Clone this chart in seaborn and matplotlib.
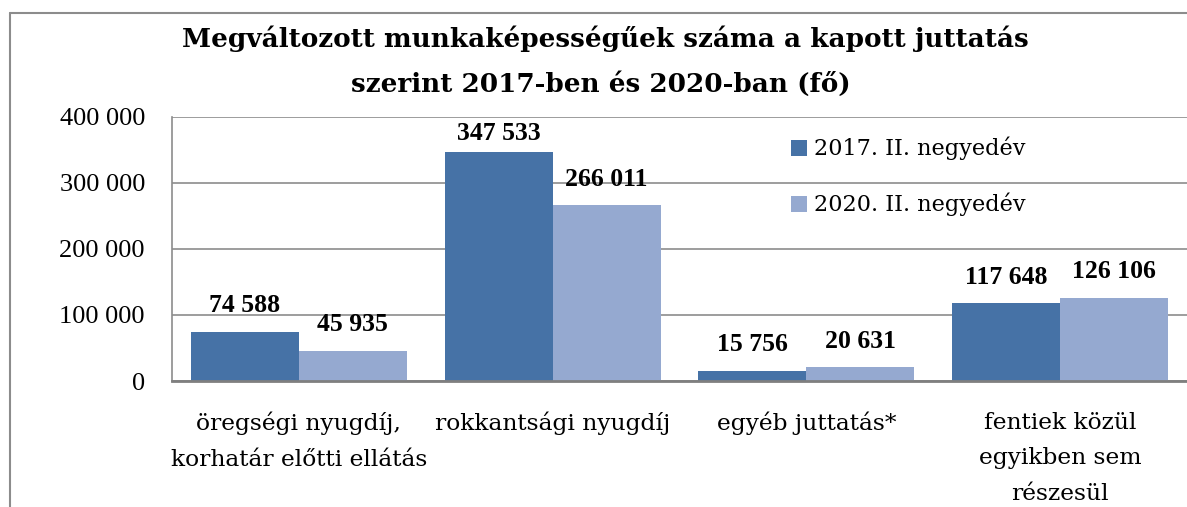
import matplotlib
matplotlib.use("Agg")
import matplotlib.pyplot as plt
from matplotlib.lines import Line2D
from matplotlib.patches import Patch
import seaborn as sns
import pandas as pd

categories = ["öregségi nyugdíj,\nkorhatár előtti ellátás", "rokkantsági nyugdíj",
              "egyéb juttatás*", "fentiek közül\negyikben sem\nrészesül"]
series_names = ["2017. II. negyedév", "2020. II. negyedév"]
values_2017 = [74588, 347533, 15756, 117648]
values_2020 = [45935, 266011, 20631, 126106]
yticks = [0, 100000, 200000, 300000, 400000]
ytick_labels = ["0", "100 000", "200 000", "300 000", "400 000"]
title_lines = ["Megváltozott munkaképességűek száma a kapott juttatás",
               "szerint 2017-ben és 2020-ban (fő)"]

dark = "#4672A6"
light = "#95A9D0"
grid_c = "#8C8C8C"

sns.set_theme(style="white")
plt.rcParams['font.family'] = ['DejaVu Serif']
plt.rcParams['text.color'] = 'black'
plt.rcParams['xtick.color'] = 'black'
plt.rcParams['ytick.color'] = 'black'

df = pd.DataFrame({
    "cat": categories * 2,
    "period": [series_names[0]] * 4 + [series_names[1]] * 4,
    "value": values_2017 + values_2020,
})

W, H = 1187, 507
fig = plt.figure(figsize=(W / 100, H / 100), dpi=100)
ax = fig.add_axes([172 / W, 1 - 381 / H, (W - 172) / W, (381 - 117) / H])

sns.barplot(data=df, x="cat", y="value", hue="period", palette=[dark, light],
            width=0.852, saturation=1, linewidth=0, ax=ax, legend=False, errorbar=None)

ax.set_ylim(0, 400000)
ax.set_xlim(-0.5, 3.5)
ax.set_yticks(yticks)
ax.set_yticklabels(ytick_labels, fontfamily="Liberation Serif", fontsize=19, color="black")
ax.set_xlabel("")
ax.set_ylabel("")
ax.tick_params(axis="y", length=0, pad=19.5)
ax.tick_params(axis="x", length=0, pad=22)
for lbl in ax.get_xticklabels():
    lbl.set_fontsize(16.8)
    lbl.set_linespacing(1.8)
    lbl.set_ha("center")
    lbl.set_color("black")
ax.yaxis.grid(True, color=grid_c, linewidth=1.2)
ax.set_axisbelow(True)
for s in ["top", "right"]:
    ax.spines[s].set_visible(False)
ax.spines["left"].set_color(grid_c)
ax.spines["left"].set_linewidth(1.2)
ax.spines["bottom"].set_color("#7F7F7F")
ax.spines["bottom"].set_linewidth(2.0)

# value labels
for i, (v1, v2) in enumerate(zip(values_2017, values_2020)):
    for off, v in ((-0.213, v1), (0.213, v2)):
        y = min(v + 30000, 365000)
        ax.text(i + off, y, f"{v:,}".replace(",", " "), ha="center", va="baseline",
                fontsize=18.5, fontweight="bold", fontfamily="Liberation Serif", color="black")

# legend
handles = [Patch(facecolor=dark, edgecolor="none"), Patch(facecolor=light, edgecolor="none")]
leg = fig.legend(handles, series_names, loc="upper left",
                 bbox_to_anchor=(791 / W, 1 - 137 / H), frameon=False,
                 fontsize=16.1, handlelength=0.72, handleheight=0.72,
                 handletextpad=0.3, labelspacing=1.45, borderpad=0, borderaxespad=0)
for t in leg.get_texts():
    t.set_color("black")

# title
fig.text(605 / W, 1 - 47 / H, title_lines[0], ha="center", va="baseline",
         fontsize=18.9, fontweight="bold", color="black")
fig.text(601 / W, 1 - 92 / H, title_lines[1], ha="center", va="baseline",
         fontsize=18.9, fontweight="bold", color="black")

# outer frame
fx, fy = 10 / W, 1 - 13 / H
fig.add_artist(Line2D([fx, fx], [0, fy], color="#8C8C8C", linewidth=1.5, transform=fig.transFigure))
fig.add_artist(Line2D([fx, 1], [fy, fy], color="#8C8C8C", linewidth=1.5, transform=fig.transFigure))

fig.savefig("out.png", dpi=100)
